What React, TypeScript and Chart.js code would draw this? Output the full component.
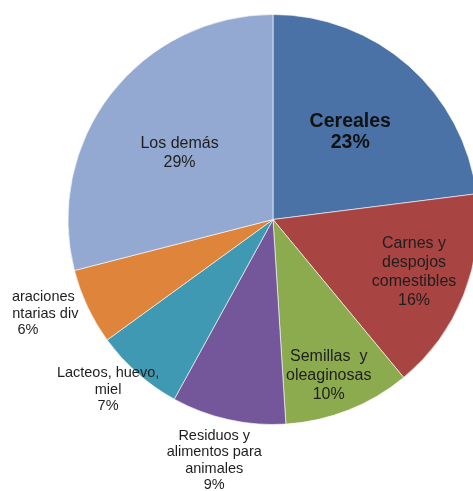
import React, { useEffect, useRef } from "react";
import { Chart, registerables } from "chart.js";

Chart.register(...registerables);

const categories = [
  ["Cereales"],
  ["Carnes y", "despojos", "comestibles"],
  ["Semillas  y", "oleaginosas"],
  ["Residuos y", "alimentos para", "animales"],
  ["Lacteos, huevo,", "miel"],
  ["Preparaciones", "alimentarias div"],
  ["Los demás"],
];
const values = [23, 16, 10, 9, 7, 6, 29];
const percentLabels = ["23%", "16%", "10%", "9%", "7%", "6%", "29%"];

const colors = ["#4A72A7", "#A84442", "#8CAB4E", "#74579A", "#4099B3", "#DF853B", "#93A9D1"];
// label placement relative to each slice: distance factor (of radius) and angle shift (deg)
const labelDist = [0.57, 0.735, 0.81, 1.21, 1.156, 1.28, 0.56];
const labelShift = [0, -1.0, 2, 1.1, 2.7, 4.2, -2.3];
// label style: 0 = bold big, 1 = inner regular, 2 = outer small
const labelKind = [0, 1, 1, 2, 2, 2, 1];

const labelPlugin = {
  id: "sliceLabels",
  afterDatasetsDraw(chart: any) {
    const ctx = chart.ctx;
    const meta = chart.getDatasetMeta(0);
    ctx.save();
    // labels are clipped at the plot frame's left edge, as in the original
    ctx.beginPath();
    ctx.rect(12, 0, chart.width - 12, chart.height);
    ctx.clip();
    meta.data.forEach((arc: any, i: number) => {
      const { x, y, startAngle, endAngle, outerRadius } = arc.getProps(
        ["x", "y", "startAngle", "endAngle", "outerRadius"],
        true
      );
      const mid = (startAngle + endAngle) / 2 + (labelShift[i] * Math.PI) / 180;
      const r = outerRadius * labelDist[i];
      const cx = x + Math.cos(mid) * r;
      const cy = y + Math.sin(mid) * r;
      const lines = [...categories[i], percentLabels[i]];
      const kind = labelKind[i];
      const lh = kind === 0 ? 21 : kind === 1 ? 19 : 16.3;
      ctx.font =
        kind === 0
          ? "bold 19.5px 'Liberation Sans', Arial, sans-serif"
          : kind === 1
          ? "16px 'Liberation Sans', Arial, sans-serif"
          : "14.5px 'Liberation Sans', Arial, sans-serif";
      ctx.fillStyle = kind === 0 ? "#111111" : "#1e1e1e";
      ctx.textAlign = "center";
      ctx.textBaseline = "middle";
      const top = cy - ((lines.length - 1) * lh) / 2;
      lines.forEach((t, k) => ctx.fillText(t, cx, top + k * lh));
    });
    ctx.restore();
  },
};

export default function App() {
  const ref = useRef<HTMLCanvasElement>(null);
  useEffect(() => {
    const chart = new Chart(ref.current!, {
      type: "pie",
      data: {
        labels: categories.map((c) => c.join(" ")),
        datasets: [
          {
            data: values,
            backgroundColor: colors,
            borderColor: "rgba(255,255,255,0.6)",
            borderWidth: 1,
            hoverOffset: 0,
            radius: 205,
          } as any,
        ],
      },
      options: {
        responsive: false,
        animation: false,
        layout: { padding: { left: 0, right: 0, top: 0, bottom: 52 } },
        plugins: { legend: { display: false }, tooltip: { enabled: false } },
        events: [],
      },
      plugins: [labelPlugin],
    });
    return () => chart.destroy();
  }, []);
  return (
    <div
      style={{
        position: "fixed",
        left: 0,
        top: 0,
        width: 473,
        height: 491,
        overflow: "hidden",
        background: "#ffffff",
      }}
    >
      <canvas ref={ref} width={546} height={491} style={{ display: "block" }} />
    </div>
  );
}
